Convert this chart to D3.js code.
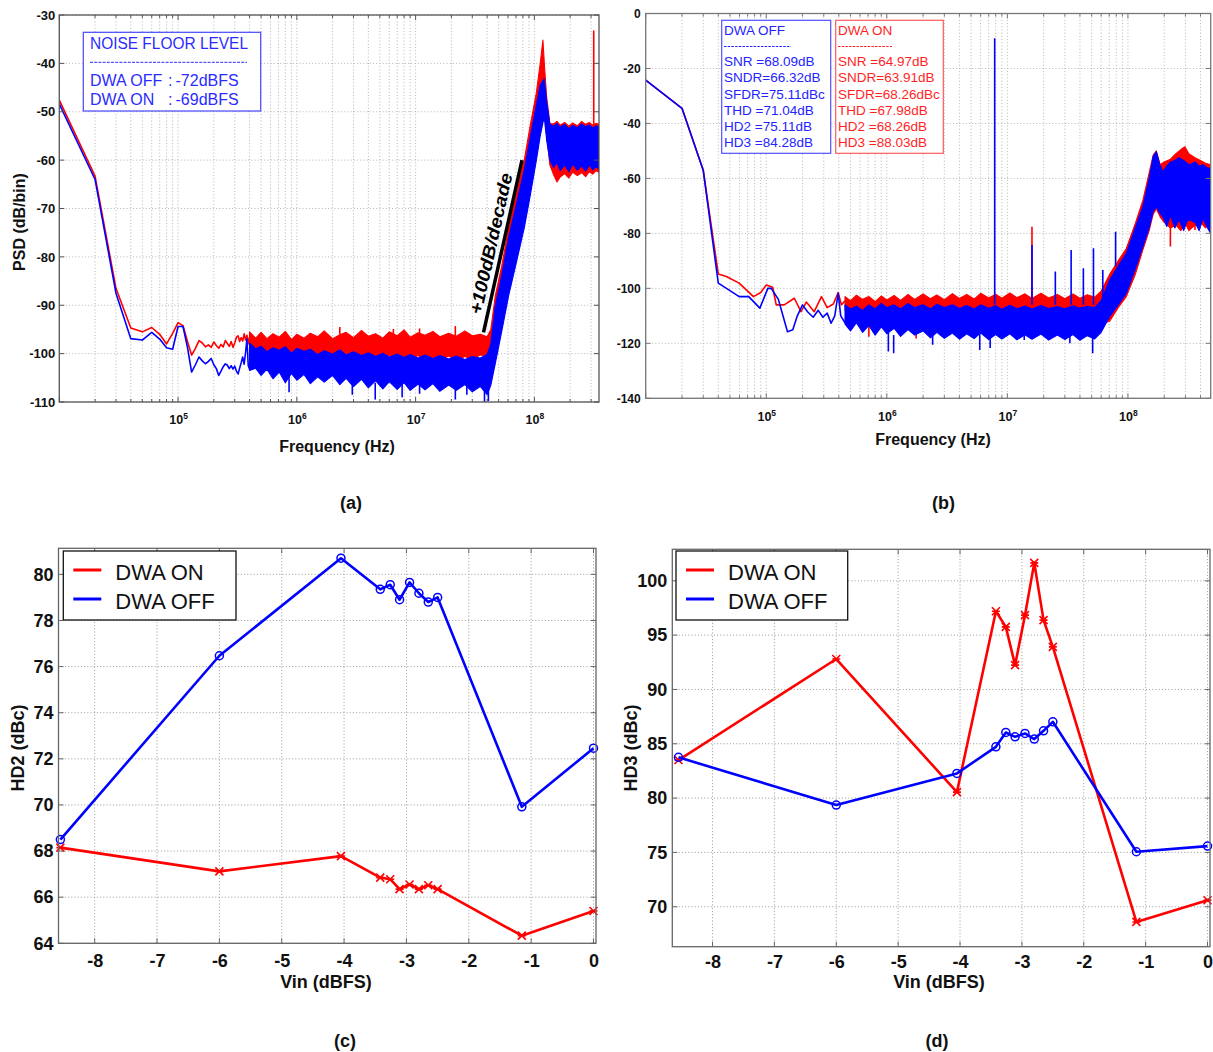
<!DOCTYPE html>
<html>
<head>
<meta charset="utf-8">
<script src="https://cdn.jsdelivr.net/npm/d3@7"></script>
<style>
  body { margin: 0; background: #fff; }
  text { font-family: Arial, "Liberation Sans", Helvetica, sans-serif; }
</style>
</head>
<body>
<svg id="fig" width="1213" height="1052"></svg>
<script>
// fig.js — PSD spectra (a,b) and HD2/HD3 sweeps (c,d), DWA on vs off

const RED = '#ff0000', BLUE = '#0000ff';

// ---------- panel (a): noise floor PSD ----------
const aYTicks = [-110, -100, -90, -80, -70, -60, -50, -40, -30];
const aDecades = [1e5, 1e6, 1e7, 1e8];

// smooth low-frequency part [Hz, dB]
const aRedLow = [
  [1e4,-47.6],[2e4,-63.3],[3e4,-86.5],[4e4,-94.7],[5e4,-95.5],[6e4,-94.6],[7e4,-96.0],[8e4,-98.0],[9e4,-95.8],
  [1e5,-93.6],[1.1e5,-94.2],[1.2e5,-97.5],[1.3e5,-100.3],[1.4e5,-98.9],[1.5e5,-97.3],[1.6e5,-97.8],[1.7e5,-98.6],
  [1.8e5,-98.2],[1.9e5,-98.7],[2.0e5,-97.6],[2.1e5,-98.3],[2.2e5,-98.9],[2.3e5,-98.1],[2.4e5,-98.6],[2.5e5,-97.3],
  [2.6e5,-97.9],[2.7e5,-98.5],[2.8e5,-97.5],[2.9e5,-98.7],[3.0e5,-97.8],[3.1e5,-96.6],[3.2e5,-96.3],[3.3e5,-97.5],
  [3.4e5,-96.7],[3.5e5,-97.4],[3.6e5,-95.9],[3.7e5,-97.2],[3.8e5,-96.2],[3.9e5,-98.0],[4.0e5,-96.5]
];
const aBlueLow = [
  [1e4,-48.4],[2e4,-64.0],[3e4,-87.5],[4e4,-96.9],[5e4,-97.2],[6e4,-95.6],[7e4,-97.0],[8e4,-98.8],[9e4,-99.1],
  [1e5,-94.4],[1.1e5,-94.4],[1.2e5,-98.7],[1.3e5,-103.8],[1.4e5,-102.3],[1.5e5,-100.7],[1.6e5,-101.5],[1.7e5,-102.1],
  [1.8e5,-101.6],[1.9e5,-101.0],[2.0e5,-102.3],[2.1e5,-103.1],[2.2e5,-104.5],[2.3e5,-103.6],[2.4e5,-102.7],[2.5e5,-102.1],
  [2.6e5,-102.4],[2.7e5,-103.1],[2.8e5,-102.5],[2.9e5,-103.2],[3.0e5,-102.6],[3.1e5,-103.6],[3.2e5,-104.2],[3.3e5,-103.0],
  [3.4e5,-101.9],[3.5e5,-100.7],[3.6e5,-102.2],[3.7e5,-99.8],[3.8e5,-97.0],[3.9e5,-102.5],[4.0e5,-103.2]
];
// dense noisy part as envelope [Hz, low dB, high dB]
const aRedBand = [
  [4.0e5,-100.5,-95.5],[4.5e5,-99.8,-96.8],[5.0e5,-100.8,-95.6],[5.6e5,-100.2,-96.9],[6.3e5,-101.2,-95.9],
  [7.1e5,-100.1,-96.6],[8.0e5,-101.8,-95.4],[9.0e5,-100.6,-97.1],[1.0e6,-101.5,-96.0],[1.15e6,-100.4,-96.8],
  [1.3e6,-101.9,-95.8],[1.5e6,-100.7,-96.5],[1.7e6,-101.3,-95.3],[2.0e6,-100.3,-96.9],[2.3e6,-101.6,-96.1],
  [2.6e6,-100.5,-95.6],[3.0e6,-101.2,-96.7],[3.5e6,-100.4,-95.2],[4.0e6,-101.7,-96.4],[4.6e6,-100.6,-95.9],
  [5.3e6,-101.4,-96.8],[6.0e6,-100.3,-95.5],[7.0e6,-101.5,-96.3],[8.0e6,-100.8,-95.1],[9.0e6,-101.2,-96.6],
  [1.05e7,-100.4,-95.7],[1.2e7,-101.6,-96.2],[1.4e7,-100.7,-95.4],[1.6e7,-101.3,-96.5],[1.9e7,-100.5,-95.8],
  [2.2e7,-101.4,-96.4],[2.6e7,-100.6,-95.3],[3.0e7,-101.2,-96.3],[3.5e7,-100.3,-96.0],
  [4.0e7,-100.5,-96.5],[4.3e7,-99.5,-95.0],[4.69e7,-98.0,-88.0],[5.3e7,-93.0,-82.0],[6.07e7,-86.0,-74.0],
  [7.0e7,-79.0,-67.5],[8.22e7,-72.0,-60.0],[9.2e7,-65.0,-53.0],[1.04e8,-58.0,-46.0],[1.12e8,-52.0,-40.0],
  [1.18e8,-49.0,-35.2],[1.22e8,-50.0,-41.0],[1.27e8,-55.0,-47.0],[1.35e8,-61.0,-52.5],
  [1.45e8,-63.0,-52.5],[1.55e8,-64.5,-52.0],[1.65e8,-63.5,-52.8],[1.8e8,-62.8,-52.2],[1.95e8,-63.7,-53.0],
  [2.1e8,-62.5,-52.3],[2.3e8,-63.2,-52.9],[2.5e8,-62.6,-52.0],[2.7e8,-63.4,-52.6],[2.9e8,-62.4,-52.2],
  [3.1e8,-62.9,-52.8],[3.3e8,-62.2,-52.4],[3.5e8,-62.5,-52.6]
];
const aBlueBand = [
  [4.0e5,-103.5,-97.8],[4.5e5,-103.0,-99.0],[5.0e5,-104.5,-98.5],[5.6e5,-103.2,-99.6],[6.3e5,-105.2,-98.8],
  [7.1e5,-103.8,-99.3],[8.0e5,-106.0,-98.6],[9.0e5,-104.1,-99.9],[1.0e6,-105.5,-98.9],[1.15e6,-104.3,-99.5],
  [1.3e6,-106.2,-99.1],[1.5e6,-104.8,-100.2],[1.7e6,-105.9,-99.4],[2.0e6,-104.5,-100.1],[2.3e6,-106.4,-99.2],
  [2.6e6,-105.1,-100.3],[3.0e6,-106.8,-99.6],[3.5e6,-105.3,-100.4],[4.0e6,-107.1,-99.8],[4.6e6,-105.6,-100.6],
  [5.3e6,-107.3,-99.9],[6.0e6,-105.8,-100.7],[7.0e6,-107.4,-100.1],[8.0e6,-106.0,-100.8],[9.0e6,-107.6,-100.2],
  [1.05e7,-106.3,-100.9],[1.2e7,-107.5,-100.3],[1.4e7,-106.2,-101.0],[1.6e7,-107.8,-100.4],[1.9e7,-106.5,-101.1],
  [2.2e7,-107.6,-100.5],[2.6e7,-106.4,-101.2],[3.0e7,-107.9,-100.6],[3.5e7,-106.8,-100.9],
  [4.0e7,-108.5,-100.2],[4.3e7,-106.5,-98.0],[4.69e7,-102.0,-90.0],[5.3e7,-95.5,-84.0],[6.07e7,-88.0,-76.0],
  [7.0e7,-81.5,-69.5],[8.22e7,-74.0,-62.0],[9.2e7,-67.5,-55.5],[1.04e8,-60.0,-48.5],[1.12e8,-55.0,-44.5],
  [1.21e8,-51.0,-43.2],[1.27e8,-56.0,-48.0],[1.35e8,-60.0,-52.5],
  [1.45e8,-61.5,-53.0],[1.55e8,-60.5,-52.4],[1.65e8,-62.2,-53.2],[1.8e8,-61.0,-52.6],[1.95e8,-62.4,-53.5],
  [2.1e8,-60.8,-52.8],[2.3e8,-62.1,-53.3],[2.5e8,-61.2,-52.5],[2.7e8,-62.3,-53.1],[2.9e8,-61.0,-52.7],
  [3.1e8,-62.0,-53.4],[3.3e8,-61.4,-52.9],[3.5e8,-61.8,-53.2]
];
// isolated spikes/dips [Hz, from dB, to dB]
const aRedSpikes = [[2.3e6,-97,-94.5],[6.5e6,-97,-94.9],[1.08e7,-97,-94.8],[2.16e7,-97,-94.3],[3.16e8,-55,-33.2]];
const aBlueSpikes = [[8.6e5,-104,-108.0],[2.93e6,-105,-108.5],[4.57e6,-106,-109.5],[7.7e6,-106,-109.0],
  [1.08e7,-106,-108.3],[2.16e7,-107,-109.5],[2.7e7,-106,-108.5],[3.8e7,-107,-110.0],[4.1e7,-107,-109.8]];
const aSlope = [[3.73e7, -95.6], [7.87e7, -60.0]];
const aSlopeLabel = '+100dB/decade';
const aNoiseTitle = 'NOISE FLOOR LEVEL';
const aNoiseRows = [['DWA OFF', '-72dBFS'], ['DWA ON', '-69dBFS']];

// ---------- panel (b): full-scale spectrum ----------
const bYTicks = [-140, -120, -100, -80, -60, -40, -20, 0];
const bDecades = [1e5, 1e6, 1e7, 1e8];
const bRedLow = [
  [1e4,-24.2],[2e4,-34.5],[3e4,-57.0],[4e4,-94.8],[4.67e4,-95.7],[5.96e4,-98.1],[7.83e4,-103.0],[9.0e4,-101.5],
  [1.0e5,-98.8],[1.13e5,-99.6],[1.21e5,-106.0],[1.41e5,-106.0],[1.71e5,-103.6],[1.94e5,-108.5],[2.15e5,-105.0],
  [2.5e5,-108.5],[2.87e5,-103.0],[3.2e5,-107.0],[3.6e5,-105.7],[3.95e5,-101.5],[4.2e5,-106.0],[4.5e5,-104.5]
];
const bBlueLow = [
  [1e4,-24.2],[2e4,-34.5],[3e4,-57.0],[4e4,-98.1],[5e4,-100.8],[5.96e4,-103.0],[7.15e4,-103.0],[8.85e4,-107.2],
  [1.03e5,-100.0],[1.1e5,-100.0],[1.26e5,-104.0],[1.5e5,-115.8],[1.66e5,-115.1],[1.81e5,-110.0],[2.0e5,-106.0],
  [2.2e5,-108.5],[2.45e5,-110.5],[2.7e5,-108.0],[2.95e5,-110.5],[3.2e5,-109.0],[3.45e5,-112.7],[3.7e5,-110.0],
  [3.95e5,-101.8],[4.15e5,-110.0],[4.5e5,-112.5]
];
const bRedBand = [
  [4.5e5,-108.0,-103.0],[5.0e5,-110.5,-104.5],[5.6e5,-109.0,-102.5],[6.3e5,-111.0,-104.0],[7.1e5,-109.5,-103.0],
  [8.0e5,-111.5,-104.8],[9.0e5,-109.8,-102.8],[1.0e6,-111.2,-104.2],[1.15e6,-110.0,-102.6],[1.3e6,-111.8,-104.4],
  [1.5e6,-110.2,-102.2],[1.7e6,-112.0,-104.0],[2.0e6,-110.4,-102.0],[2.3e6,-112.2,-103.8],[2.6e6,-110.6,-102.4],
  [3.0e6,-112.4,-104.1],[3.5e6,-110.5,-101.9],[4.0e6,-112.3,-103.7],[4.6e6,-110.8,-102.2],[5.3e6,-112.5,-103.9],
  [6.0e6,-110.7,-101.8],[7.0e6,-112.6,-103.5],[8.0e6,-111.0,-102.1],[9.0e6,-112.4,-103.6],[1.05e7,-110.9,-101.7],
  [1.2e7,-112.7,-103.4],[1.4e7,-111.2,-102.0],[1.6e7,-112.5,-103.7],[1.9e7,-111.0,-101.8],[2.2e7,-112.8,-103.5],
  [2.6e7,-111.3,-102.2],[3.0e7,-112.6,-103.8],[3.5e7,-111.1,-102.0],[4.0e7,-112.9,-103.6],[4.6e7,-111.4,-102.3],
  [5.3e7,-112.5,-103.2],[6.0e7,-113.0,-101.0],
  [7.04e7,-112.0,-95.0],[8.3e7,-107.0,-90.0],[9.7e7,-103.0,-85.5],[1.15e8,-95.0,-76.5],[1.33e8,-86.0,-68.0],
  [1.5e8,-79.0,-58.0],[1.62e8,-73.0,-51.5],[1.72e8,-71.0,-50.0],[1.85e8,-74.0,-55.0],
  [2.0e8,-76.0,-54.0],[2.25e8,-78.0,-53.0],[2.5e8,-77.0,-51.0],[2.75e8,-79.0,-49.5],[2.97e8,-76.0,-48.5],
  [3.2e8,-79.0,-51.0],[3.6e8,-77.0,-52.5],[4.0e8,-76.0,-53.5],[4.4e8,-78.0,-54.5],[4.86e8,-76.0,-55.0]
];
const bBlueBand = [
  [4.5e5,-113.0,-106.0],[5.0e5,-115.5,-107.5],[5.6e5,-112.5,-106.5],[6.3e5,-116.0,-108.0],[7.1e5,-113.5,-106.0],
  [8.0e5,-117.0,-107.5],[9.0e5,-114.0,-105.5],[1.0e6,-116.5,-107.0],[1.15e6,-114.5,-106.0],[1.3e6,-117.5,-107.5],
  [1.5e6,-115.0,-105.5],[1.7e6,-117.0,-107.0],[2.0e6,-115.5,-106.0],[2.3e6,-118.0,-107.5],[2.6e6,-116.0,-105.8],
  [3.0e6,-118.2,-107.0],[3.5e6,-116.3,-106.0],[4.0e6,-118.5,-107.3],[4.6e6,-116.5,-106.2],[5.3e6,-118.3,-107.5],
  [6.0e6,-116.2,-106.0],[7.0e6,-118.6,-107.2],[8.0e6,-116.8,-106.3],[9.0e6,-118.4,-107.6],[1.05e7,-116.5,-106.1],
  [1.2e7,-118.7,-107.4],[1.4e7,-116.9,-106.4],[1.6e7,-118.5,-107.5],[1.9e7,-116.6,-106.2],[2.2e7,-118.8,-107.3],
  [2.6e7,-117.0,-106.6],[3.0e7,-118.6,-107.4],[3.5e7,-116.8,-106.3],[4.0e7,-118.9,-107.2],[4.6e7,-117.2,-106.5],
  [5.3e7,-118.4,-107.0],[6.0e7,-116.0,-104.5],
  [7.04e7,-110.3,-97.0],[8.3e7,-106.0,-92.0],[9.7e7,-101.8,-87.2],[1.15e8,-93.0,-78.0],[1.33e8,-84.8,-70.3],
  [1.5e8,-78.0,-60.0],[1.62e8,-72.0,-52.0],[1.72e8,-70.3,-50.3],[1.84e8,-72.7,-55.0],
  [1.95e8,-74.0,-57.5],[2.1e8,-77.5,-55.5],[2.25e8,-73.5,-54.0],[2.45e8,-78.0,-53.5],[2.65e8,-75.0,-52.5],
  [2.9e8,-79.0,-53.5],[3.1e8,-75.5,-54.5],[3.27e8,-75.1,-55.0],[3.6e8,-76.0,-54.0],[3.9e8,-79.0,-55.5],
  [4.2e8,-74.5,-55.0],[4.5e8,-77.5,-56.0],[4.86e8,-80.0,-56.5]
];
const bRedSpikes = [[7.1e5,-110,-117.6],[1.75e6,-111,-118.2],[2.95e6,-111,-117.6],[1.6e7,-104,-77.6],
  [2.25e8,-75,-84.8],[3.6e8,-76,-78.8]];
const bBlueSpikes = [[1.03e6,-116,-123.0],[1.14e6,-117,-123.6],[2.4e6,-117,-120.5],[5.9e6,-116,-122.4],
  [7.2e6,-117,-121.7],[1.38e7,-117,-118.8],[3.3e7,-117,-120.0],[5.1e7,-117,-123.6],
  [7.85e6,-106,-9.0],[1.6e7,-106,-84.2],[2.5e7,-106,-93.9],[3.38e7,-106,-86.0],[4.27e7,-106,-92.7],
  [5.18e7,-106,-85.4],[6.19e7,-104,-93.3],[7.9e7,-92,-79.4]];
const bOffStats = ['SNR =68.09dB', 'SNDR=66.32dB', 'SFDR=75.11dBc', 'THD =71.04dB', 'HD2 =75.11dB', 'HD3 =84.28dB'];
const bOnStats  = ['SNR =64.97dB', 'SNDR=63.91dB', 'SFDR=68.26dBc', 'THD =67.98dB', 'HD2 =68.26dB', 'HD3 =88.03dB'];

// ---------- panels (c), (d): harmonic distortion vs input level ----------
const vin   = [-8.55, -6, -4.05, -3.42, -3.26, -3.11, -2.95, -2.8, -2.65, -2.5, -1.15, 0];
const hd2On  = [68.15, 67.12, 67.78, 66.85, 66.78, 66.35, 66.55, 66.35, 66.52, 66.35, 64.33, 65.4];
const hd2Off = [68.5, 76.47, 80.7, 79.35, 79.55, 78.9, 79.65, 79.18, 78.8, 79.0, 69.92, 72.46];
const hd3On  = [83.5, 92.8, 80.55, 97.2, 95.76, 92.24, 96.84, 101.65, 96.38, 93.92, 68.6, 70.6];
const hd3Off = [83.75, 79.36, 82.27, 84.72, 86.04, 85.64, 85.95, 85.43, 86.19, 87.02, 75.06, 75.58];
const vinTicks = [-8, -7, -6, -5, -4, -3, -2, -1, 0];
const hd2Ticks = [64, 66, 68, 70, 72, 74, 76, 78, 80];
const hd3Ticks = [70, 75, 80, 85, 90, 95, 100];
const seriesNames = ['DWA ON', 'DWA OFF'];

// ================= drawing =================
const svg = d3.select('#fig');
const defs = svg.append('defs');

function addClip(id, x, y) {
  const [x0, x1] = x.range(), [yb, yt] = y.range();
  defs.append('clipPath').attr('id', id).append('rect')
    .attr('x', x0).attr('y', yt).attr('width', x1 - x0).attr('height', yb - yt);
  return `url(#${id})`;
}

function grid(g, x, y, xVals, yVals, color) {
  const [x0, x1] = x.range(), [yb, yt] = y.range();
  g.append('g').selectAll('line').data(xVals).join('line')
    .attr('x1', d => x(d)).attr('x2', d => x(d)).attr('y1', yt).attr('y2', yb)
    .attr('stroke', color).attr('stroke-dasharray', '1,2.2');
  g.append('g').selectAll('line').data(yVals).join('line')
    .attr('x1', x0).attr('x2', x1).attr('y1', d => y(d)).attr('y2', d => y(d))
    .attr('stroke', color).attr('stroke-dasharray', '1,2.2');
}

function ticksAndFrame(g, x, y, xVals, yVals, xLen, color) {
  const [x0, x1] = x.range(), [yb, yt] = y.range();
  const t = g.append('g').attr('stroke', color).attr('stroke-width', 1);
  t.selectAll('.tb').data(xVals).join('line').attr('class', 'tb')
    .attr('x1', d => x(d)).attr('x2', d => x(d)).attr('y1', yb).attr('y2', d => yb - xLen(d));
  t.selectAll('.tt').data(xVals).join('line').attr('class', 'tt')
    .attr('x1', d => x(d)).attr('x2', d => x(d)).attr('y1', yt).attr('y2', d => yt + xLen(d));
  t.selectAll('.tl').data(yVals).join('line').attr('class', 'tl')
    .attr('x1', x0).attr('x2', x0 + 5).attr('y1', d => y(d)).attr('y2', d => y(d));
  t.selectAll('.tr').data(yVals).join('line').attr('class', 'tr')
    .attr('x1', x1).attr('x2', x1 - 5).attr('y1', d => y(d)).attr('y2', d => y(d));
  g.append('rect').attr('x', x0).attr('y', yt).attr('width', x1 - x0).attr('height', yb - yt)
    .attr('fill', 'none').attr('stroke', color).attr('stroke-width', 1.3);
}

function yAxisLabels(g, x, y, vals, fs, pad) {
  const ay = g.append('g').attr('transform', `translate(${x.range()[0]},0)`)
    .call(d3.axisLeft(y).tickValues(vals).tickSize(0).tickPadding(pad).tickFormat(d => String(d)));
  ay.select('.domain').remove();
  ay.selectAll('text').attr('font-size', fs).attr('font-weight', 'bold').attr('fill', '#111');
}

function xAxisLabels(g, x, y, vals, fs, pad) {
  const ax = g.append('g').attr('transform', `translate(0,${y.range()[0]})`)
    .call(d3.axisBottom(x).tickValues(vals).tickSize(0).tickPadding(pad).tickFormat(d => String(d)));
  ax.select('.domain').remove();
  ax.selectAll('text').attr('font-size', fs).attr('font-weight', 'bold').attr('fill', '#111');
}

function logAxisLabels(g, x, y, decades, fs, pad) {
  const ax = g.append('g').attr('transform', `translate(0,${y.range()[0]})`)
    .call(d3.axisBottom(x).tickValues(decades).tickSize(0).tickPadding(pad).tickFormat(() => ''));
  ax.select('.domain').remove();
  ax.selectAll('.tick text').attr('font-size', fs).attr('font-weight', 'bold').attr('fill', '#111')
    .each(function (d) {
      const t = d3.select(this);
      t.append('tspan').text('10');
      t.append('tspan').attr('dy', '-0.55em').attr('font-size', fs * 0.68)
        .text(Math.round(Math.log10(d)));
    });
}

function psdTrace(g, x, y, low, band, spikes, color) {
  g.append('path').datum(low)
    .attr('d', d3.line().x(d => x(d[0])).y(d => y(d[1])))
    .attr('fill', 'none').attr('stroke', color).attr('stroke-width', 1.6).attr('stroke-linejoin', 'round');
  g.append('path').datum(band)
    .attr('d', d3.area().x(d => x(d[0])).y0(d => y(d[1])).y1(d => y(d[2])))
    .attr('fill', color).attr('stroke', color).attr('stroke-width', 1.1).attr('stroke-linejoin', 'round');
  g.append('g').selectAll('line').data(spikes).join('line')
    .attr('x1', d => x(d[0])).attr('x2', d => x(d[0]))
    .attr('y1', d => y(d[1])).attr('y2', d => y(d[2]))
    .attr('stroke', color).attr('stroke-width', 1.6);
}

function label(text, x, y, fs, opts = {}) {
  const t = svg.append('text').attr('x', x).attr('y', y).attr('font-size', fs)
    .attr('font-weight', opts.weight || 'bold').attr('fill', opts.fill || '#111')
    .attr('text-anchor', opts.anchor || 'middle').text(text);
  if (opts.rotate) t.attr('x', 0).attr('y', 0).attr('transform', `translate(${x},${y}) rotate(${opts.rotate})`);
  return t;
}

// ---------- (a) ----------
{
  const x = d3.scaleLog().domain([1e4, 3.5e8]).range([59.3, 599]);
  const y = d3.scaleLinear().domain([-110, -30]).range([402, 15]);
  const g = svg.append('g');
  grid(g, x, y, x.ticks(), aYTicks, '#b5b5b5');
  const plot = g.append('g').attr('clip-path', addClip('clipA', x, y));
  psdTrace(plot, x, y, aRedLow, aRedBand, aRedSpikes, RED);
  psdTrace(plot, x, y, aBlueLow, aBlueBand, aBlueSpikes, BLUE);

  // slope annotation
  const p0 = [x(aSlope[0][0]), y(aSlope[0][1])], p1 = [x(aSlope[1][0]), y(aSlope[1][1])];
  g.append('line').attr('x1', p0[0]).attr('y1', p0[1]).attr('x2', p1[0]).attr('y2', p1[1])
    .attr('stroke', '#000').attr('stroke-width', 3.5);
  const ang = Math.atan2(p1[1] - p0[1], p1[0] - p0[0]);
  const mx = (p0[0] + p1[0]) / 2 + 12 * Math.sin(ang), my = (p0[1] + p1[1]) / 2 - 12 * Math.cos(ang);
  g.append('text').attr('transform', `translate(${mx},${my}) rotate(${ang * 180 / Math.PI})`)
    .attr('text-anchor', 'middle').attr('dominant-baseline', 'central')
    .attr('font-size', 18).attr('font-weight', 'bold').attr('font-style', 'italic')
    .attr('textLength', 144).attr('lengthAdjust', 'spacingAndGlyphs').text(aSlopeLabel);

  ticksAndFrame(g, x, y, x.ticks(), aYTicks,
    d => Math.abs(Math.log10(d) % 1) < 1e-9 ? 5 : 3, '#555');
  yAxisLabels(g, x, y, aYTicks, 13, 4);
  logAxisLabels(g, x, y, aDecades, 12.5, 13);

  // noise floor box
  const lb = g.append('g');
  lb.append('rect').attr('x', 83.3).attr('y', 32.3).attr('width', 177.4).attr('height', 78.7)
    .attr('fill', '#fff').attr('stroke', '#4646ff').attr('stroke-width', 1.2);
  lb.append('text').attr('x', 90).attr('y', 48.5).attr('font-size', 16).attr('fill', '#2b2bff')
    .attr('textLength', 158).attr('lengthAdjust', 'spacingAndGlyphs').text(aNoiseTitle);
  lb.append('line').attr('x1', 90).attr('x2', 247).attr('y1', 62.3).attr('y2', 62.3)
    .attr('stroke', '#2b2bff').attr('stroke-width', 1).attr('stroke-dasharray', '3,1.2');
  aNoiseRows.forEach((r, i) => {
    const yy = 86 + i * 19;
    lb.append('text').attr('x', 90).attr('y', yy).attr('font-size', 16).attr('fill', '#2b2bff').text(r[0]);
    lb.append('text').attr('x', 168).attr('y', yy).attr('font-size', 16).attr('fill', '#2b2bff').text(':');
    lb.append('text').attr('x', 175.5).attr('y', yy).attr('font-size', 16).attr('fill', '#2b2bff').text(r[1]);
  });

  label('PSD (dB/bin)', 25, 222, 16, { rotate: -90 });
  label('Frequency (Hz)', 337, 452, 16);
  label('(a)', 351, 509, 18);
}

// ---------- (b) ----------
{
  const x = d3.scaleLog().domain([1e4, 4.86e8]).range([645.7, 1210.7]);
  const y = d3.scaleLinear().domain([-140, 0]).range([398.3, 13.5]);
  const g = svg.append('g');
  grid(g, x, y, x.ticks(), bYTicks, '#b5b5b5');
  const plot = g.append('g').attr('clip-path', addClip('clipB', x, y));
  psdTrace(plot, x, y, bRedLow, bRedBand, bRedSpikes, RED);
  psdTrace(plot, x, y, bBlueLow, bBlueBand, bBlueSpikes, BLUE);
  ticksAndFrame(g, x, y, x.ticks(), bYTicks,
    d => Math.abs(Math.log10(d) % 1) < 1e-9 ? 5 : 3, '#777');
  yAxisLabels(g, x, y, bYTicks, 12, 5);
  logAxisLabels(g, x, y, bDecades, 12.5, 13.5);

  const boxes = [
    { x: 721.7, w: 109, title: 'DWA OFF', rows: bOffStats, color: '#2323ff', edge: '#5050ff', dash: 67 },
    { x: 835.7, w: 107.6, title: 'DWA ON', rows: bOnStats, color: '#ff1f1f', edge: '#ff5a5a', dash: 54 }
  ];
  boxes.forEach(b => {
    g.append('rect').attr('x', b.x).attr('y', 20.3).attr('width', b.w).attr('height', 133)
      .attr('fill', '#fff').attr('stroke', b.edge).attr('stroke-width', 1.2);
    g.append('text').attr('x', b.x + 2.3).attr('y', 35).attr('font-size', 13.5).attr('fill', b.color).text(b.title);
    g.append('line').attr('x1', b.x + 2.3).attr('x2', b.x + 2.3 + b.dash).attr('y1', 46.5).attr('y2', 46.5)
      .attr('stroke', b.color).attr('stroke-dasharray', '2.5,1.2');
    b.rows.forEach((r, i) => {
      g.append('text').attr('x', b.x + 2.3).attr('y', 66 + i * 16.27).attr('font-size', 13.5)
        .attr('fill', b.color).text(r);
    });
  });

  label('Frequency (Hz)', 933, 445, 16);
  label('(b)', 943.5, 509, 18);
}

// ---------- (c), (d) ----------
function hdPanel(o) {
  const g = svg.append('g');
  grid(g, o.x, o.y, o.xTicks, o.yTicks, '#999');
  const line = d3.line().x(d => o.x(d[0])).y(d => o.y(d[1]));
  const series = [{ vals: o.on, color: RED, mark: 'x' }, { vals: o.off, color: BLUE, mark: 'o' }];
  series.forEach(s => {
    const pts = vin.map((v, i) => [v, s.vals[i]]);
    g.append('path').datum(pts).attr('d', line).attr('fill', 'none')
      .attr('stroke', s.color).attr('stroke-width', 2.6).attr('stroke-linejoin', 'round');
    const m = g.append('g').selectAll('g').data(pts).join('g')
      .attr('transform', d => `translate(${o.x(d[0])},${o.y(d[1])})`);
    if (s.mark === 'o') {
      m.append('circle').attr('r', 4).attr('fill', 'none').attr('stroke', s.color).attr('stroke-width', 1.5);
    } else {
      m.append('path').attr('d', 'M-4,-4L4,4M-4,4L4,-4M-4,0L4,0').attr('stroke', s.color).attr('stroke-width', 1.6);
    }
  });
  ticksAndFrame(g, o.x, o.y, o.xTicks, o.yTicks, () => 5, '#666');
  yAxisLabels(g, o.x, o.y, o.yTicks, 18, 5);
  xAxisLabels(g, o.x, o.y, o.xTicks, 18, o.xPad);

  // legend
  const L = o.legend;
  g.append('rect').attr('x', L.x).attr('y', L.y).attr('width', L.w).attr('height', 69)
    .attr('fill', '#fff').attr('stroke', '#111').attr('stroke-width', 1.3);
  seriesNames.forEach((name, i) => {
    const c = i === 0 ? RED : BLUE;
    g.append('line').attr('x1', L.x + 10).attr('x2', L.x + 38).attr('y1', L.y + 19 + i * 29)
      .attr('y2', L.y + 19 + i * 29).attr('stroke', c).attr('stroke-width', 3);
    g.append('text').attr('x', L.x + 52).attr('y', L.y + 28.5 + i * 29).attr('font-size', 22)
      .attr('fill', '#111').text(name);
  });
}

{
  const x = d3.scaleLinear().domain([-8.58, 0.04]).range([58.5, 596]);
  const y = d3.scaleLinear().domain([64, 81.13]).range([943.3, 548.3]);
  hdPanel({ x, y, xTicks: vinTicks, yTicks: hd2Ticks, on: hd2On, off: hd2Off, xPad: 10.6,
    legend: { x: 63.3, y: 551, w: 172.7 } });
  label('HD2 (dBc)', 24, 748, 18, { rotate: -90 });
  label('Vin (dBFS)', 326, 988, 18);
  label('(c)', 345, 1047, 18);
}
{
  const x = d3.scaleLinear().domain([-8.65, 0.04]).range([672.3, 1210]);
  const y = d3.scaleLinear().domain([66.32, 102.9]).range([946.7, 549.3]);
  hdPanel({ x, y, xTicks: vinTicks, yTicks: hd3Ticks, on: hd3On, off: hd3Off, xPad: 8.2,
    legend: { x: 676, y: 551, w: 171.7 } });
  label('HD3 (dBc)', 637, 748, 18, { rotate: -90 });
  label('Vin (dBFS)', 939, 988, 18);
  label('(d)', 937, 1047, 18);
}
</script>
</body>
</html>
